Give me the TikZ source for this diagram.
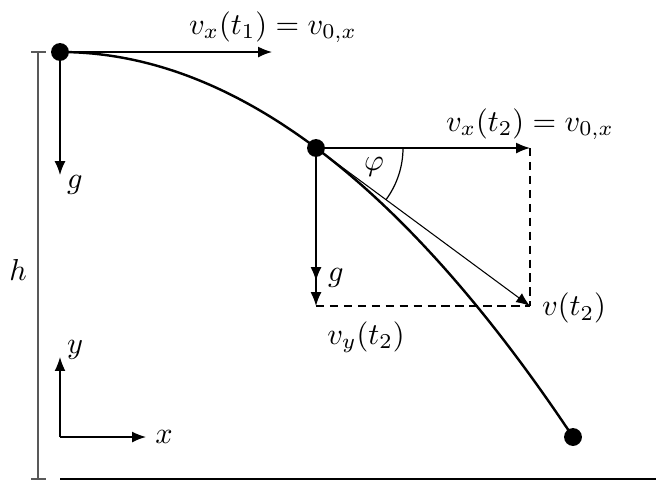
\documentclass[tikz,border=0pt]{standalone}
\usetikzlibrary{arrows.meta}
\begin{document}
\begin{tikzpicture}[x=0.33pt,y=-0.33pt,
  dot/.style={circle,fill=black,inner sep=0pt,minimum size=5.9pt},
  vec/.style={line width=0.45pt,-{Latex[length=4.6pt,width=3.6pt]}},
  thinvec/.style={line width=0.35pt,-{Latex[length=4.6pt,width=3.6pt]}},
  dashline/.style={line width=0.4pt,dash pattern=on 2.8pt off 1.8pt},
  lbl/.style={inner sep=0pt}]
\useasboundingbox (0,0) rectangle (656,481);
% height bar
\coordinate (htop) at (38,52);
\coordinate (hbot) at (38,479);
\draw[black!65,line width=0.45pt] (htop) -- (hbot);
\draw[black!65,line width=0.45pt] (31,52) -- (46,52);
\draw[black!65,line width=0.45pt] (31,479) -- (46,479);
\node[lbl] (h) at (18,270) {$h$};
% ground
\coordinate (g0) at (60,479);
\coordinate (g1) at (656,479);
\draw[line width=0.5pt] (g0) -- (g1);
% points
\coordinate (A) at (60,52);
\coordinate (B) at (316,148);
\coordinate (C) at (573,437);
% trajectory
\draw[line width=0.8pt] (A) .. controls (231,52) and (402,180.3) .. (C);
% first point vectors
\coordinate (vx1) at (272,52);
\coordinate (g1e) at (60,175);
\draw[vec] (A) -- (vx1);
\draw[vec] (A) -- (g1e);
\node[lbl] (lvx1) at (273,27) {$v_x(t_1) = v_{0,x}$};
\node[lbl] (lg1) at (75,185) {$g$};
% second point vectors
\coordinate (vx2) at (530,148);
\coordinate (vy2) at (316,306);
\coordinate (g2e) at (316,281);
\coordinate (v2) at (530,306);
\draw[dashline] (vx2) -- (v2);
\draw[dashline] (vy2) -- (v2);
\draw[vec] (B) -- (vx2);
\draw[vec] (B) -- (g2e);
\draw[vec] (B) -- (vy2);
\draw[thinvec] (B) -- (v2);
\draw[line width=0.4pt] ([shift={(0:87)}]B) arc[start angle=0,end angle=36.4,radius=87];
\node[lbl] (phi) at (374,167) {$\varphi$};
\node[lbl] (lvx2) at (530,124) {$v_x(t_2) = v_{0,x}$};
\node[lbl] (lg2) at (336,278) {$g$};
\node[lbl] (lvy2) at (366,337) {$v_y(t_2)$};
\node[lbl] (lv2) at (574,308) {$v(t_2)$};
% dots
\node[dot] (dA) at (A) {};
\node[dot] (dB) at (B) {};
\node[dot] (dC) at (C) {};
% axes
\coordinate (O) at (60,437);
\coordinate (Y) at (60,357);
\coordinate (X) at (146,437);
\draw[vec] (O) -- (Y);
\draw[vec] (O) -- (X);
\node[lbl] (ly) at (75,350) {$y$};
\node[lbl] (lx) at (164,437) {$x$};
\end{tikzpicture}
\end{document}
